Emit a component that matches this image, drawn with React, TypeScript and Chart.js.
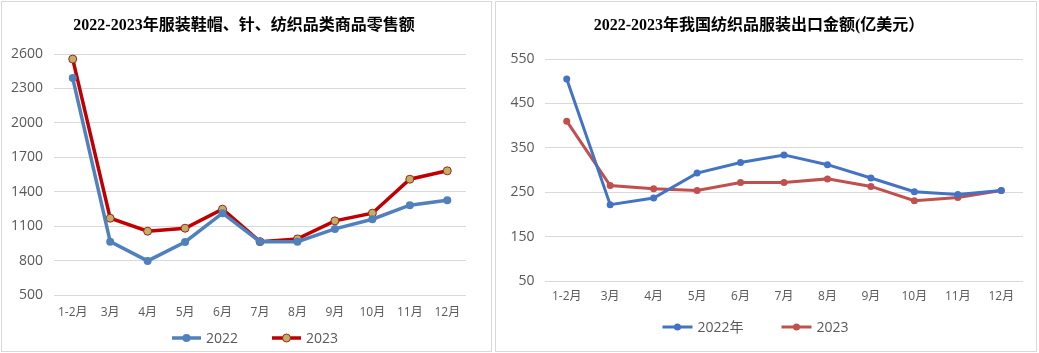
import React, { useEffect, useRef } from "react";
import { Chart, registerables } from "chart.js";

Chart.register(...registerables);

const months = ["1-2月", "3月", "4月", "5月", "6月", "7月", "8月", "9月", "10月", "11月", "12月"];

const retailTitle = "2022-2023年服装鞋帽、针、纺织品类商品零售额";
const retailLabels = ["2022", "2023"];
const retail2022 = [2390, 965, 797, 962, 1213, 965, 965, 1076, 1160, 1283, 1326];
const retail2023 = [2556, 1169, 1056, 1082, 1248, 965, 989, 1146, 1213, 1509, 1582];
const retailMin = 500;
const retailMax = 2600;
const retailStep = 300;

const exportTitle = "2022-2023年我国纺织品服装出口金额(亿美元）";
const exportLabels = ["2022年", "2023"];
const export2022 = [505, 222, 237, 293, 317, 334, 312, 282, 251, 245, 254];
const export2023 = [410, 265, 258, 254, 272, 272, 280, 263, 231, 238, 254];
const exportMin = 50;
const exportMax = 550;
const exportStep = 100;

const TICK_FONT = "'Open Sans', 'Noto Sans CJK SC', sans-serif";
const GRID = "#D9D9D9";
const TEXT = "#595959";

const lineLegend = {
  id: "lineLegend",
  afterDraw(chart: any, _args: any, opts: any) {
    const { ctx, chartArea } = chart;
    ctx.save();
    ctx.font = `14px ${TICK_FONT}`;
    const items = chart.data.datasets.map((ds: any) => ({ ds, w: ctx.measureText(ds.label).width }));
    const total =
      items.reduce((s: number, it: any) => s + opts.lineLen + opts.textGap + it.w, 0) +
      opts.itemGap * (items.length - 1);
    let x = opts.centerX - total / 2;
    const y = chartArea.bottom + opts.offsetY;
    for (const it of items) {
      const ds = it.ds;
      ctx.strokeStyle = ds.borderColor;
      ctx.lineWidth = ds.borderWidth;
      ctx.beginPath();
      ctx.moveTo(x, y);
      ctx.lineTo(x + opts.lineLen, y);
      ctx.stroke();
      ctx.beginPath();
      ctx.arc(x + opts.lineLen / 2, y, ds.pointRadius, 0, Math.PI * 2);
      ctx.fillStyle = ds.pointBackgroundColor;
      ctx.fill();
      if (ds.pointBorderWidth) {
        ctx.lineWidth = ds.pointBorderWidth;
        ctx.strokeStyle = ds.pointBorderColor;
        ctx.stroke();
      }
      x += opts.lineLen + opts.textGap;
      ctx.fillStyle = TEXT;
      ctx.textBaseline = "middle";
      ctx.textAlign = "left";
      ctx.fillText(ds.label, x, y + 1);
      x += it.w + opts.itemGap;
    }
    ctx.restore();
  },
};

function makeOptions(p: {
  min: number; max: number; step: number; yWidth: number; xHeight: number; xPad: number; yPad: number;
  padding: any; legend: any;
}) {
  return {
    responsive: false,
    animation: false as const,
    layout: { padding: p.padding },
    plugins: {
      legend: { display: false },
      title: { display: false },
      tooltip: { enabled: false },
      lineLegend: p.legend,
    },
    scales: {
      x: {
        type: "category" as const,
        offset: true,
        grid: { display: false, drawTicks: false },
        border: { display: false },
        ticks: { color: TEXT, font: { size: 12, family: TICK_FONT }, padding: p.xPad, maxRotation: 0, autoSkip: false },
        afterFit(scale: any) { scale.height = p.xHeight; },
      },
      y: {
        min: p.min,
        max: p.max,
        grid: { color: GRID, lineWidth: 1, drawTicks: false },
        border: { display: false },
        ticks: {
          stepSize: p.step, color: TEXT, font: { size: 14, family: TICK_FONT }, padding: p.yPad,
          callback: (v: any) => String(v),
        },
        afterFit(scale: any) { scale.width = p.yWidth; },
      },
    },
  };
}

export default function App() {
  const leftRef = useRef<HTMLCanvasElement>(null);
  const rightRef = useRef<HTMLCanvasElement>(null);

  useEffect(() => {
    const left = new Chart(leftRef.current!, {
      type: "line",
      data: {
        labels: months,
        datasets: [
          {
            label: retailLabels[0], data: retail2022, borderColor: "#4F81BD", backgroundColor: "#4F81BD",
            borderWidth: 3.5, pointRadius: 4, pointBackgroundColor: "#4F81BD", pointBorderColor: "#4F81BD",
            pointBorderWidth: 0, tension: 0,
          },
          {
            label: retailLabels[1], data: retail2023, borderColor: "#C00000", backgroundColor: "#C00000",
            borderWidth: 3.5, pointRadius: 4, pointBackgroundColor: "#BFB062", pointBorderColor: "#A02020",
            pointBorderWidth: 1, tension: 0,
          },
        ],
      },
      options: makeOptions({
        min: retailMin, max: retailMax, step: retailStep, yWidth: 52, xHeight: 27, xPad: 10, yPad: 11,
        padding: { top: 52, right: 24, bottom: 28, left: 0 },
        legend: { centerX: 253, offsetY: 43, lineLen: 29, textGap: 5, itemGap: 34 },
      }) as any,
      plugins: [lineLegend as any],
    });
    const right = new Chart(rightRef.current!, {
      type: "line",
      data: {
        labels: months,
        datasets: [
          {
            label: exportLabels[0], data: export2022, borderColor: "#4472C4", backgroundColor: "#4472C4",
            borderWidth: 3, pointRadius: 3.5, pointBackgroundColor: "#4472C4", pointBorderColor: "#4472C4",
            pointBorderWidth: 0, tension: 0,
          },
          {
            label: exportLabels[1], data: export2023, borderColor: "#C0504D", backgroundColor: "#C0504D",
            borderWidth: 3, pointRadius: 3.5, pointBackgroundColor: "#C0504D", pointBorderColor: "#C0504D",
            pointBorderWidth: 0, tension: 0,
          },
        ],
      },
      options: makeOptions({
        min: exportMin, max: exportMax, step: exportStep, yWidth: 49, xHeight: 25, xPad: 8.5, yPad: 10.5,
        padding: { top: 57, right: 13, bottom: 44, left: 0 },
        legend: { centerX: 259.5, offsetY: 46, lineLen: 30, textGap: 5, itemGap: 38 },
      }) as any,
      plugins: [lineLegend as any],
    });
    return () => {
      left.destroy();
      right.destroy();
    };
  }, []);

  const titleStyle = (center: number): React.CSSProperties => ({
    position: "absolute",
    left: center - 260,
    width: 520,
    top: 15,
    lineHeight: "20px",
    textAlign: "center",
    fontSize: 16,
    fontWeight: "bold",
    color: "#000",
    fontFamily: "'Liberation Serif', 'Noto Sans CJK SC', serif",
    whiteSpace: "nowrap",
  });

  return (
    <div style={{ position: "absolute", left: 0, top: 0, width: 1039, height: 353, background: "#fff" }}>
      <div style={{ position: "absolute", left: 1, top: 1, width: 491, height: 351, boxSizing: "border-box", border: `1px solid ${GRID}` }} />
      <div style={{ position: "absolute", left: 495, top: 1, width: 542, height: 351, boxSizing: "border-box", border: `1px solid ${GRID}` }} />
      <canvas ref={leftRef} width={488} height={348} style={{ position: "absolute", left: 2, top: 2 }} />
      <canvas ref={rightRef} width={540} height={348} style={{ position: "absolute", left: 496, top: 2 }} />
      <div style={titleStyle(244)}>{retailTitle}</div>
      <div style={titleStyle(759)}>{exportTitle}</div>
    </div>
  );
}
